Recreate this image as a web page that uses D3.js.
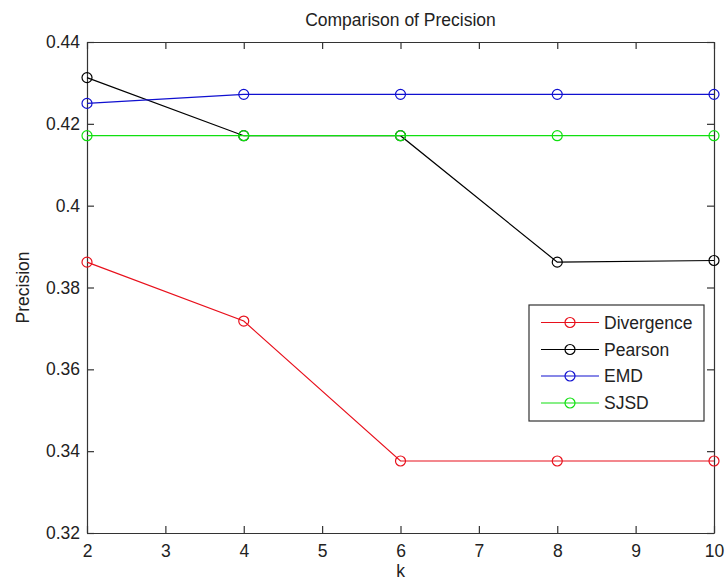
<!DOCTYPE html>
<html>
<head>
<meta charset="utf-8">
<script src="https://cdn.jsdelivr.net/npm/d3@7"></script>
<style>
  html, body { margin: 0; padding: 0; background: #fff; }
  svg { display: block; }
  text { font-family: "Liberation Sans", Arial, sans-serif; fill: #222; }
</style>
</head>
<body>
<svg id="chart" width="726" height="583"></svg>
<script>
const kValues = [2, 4, 6, 8, 10];
const divergence = [0.3862, 0.3718, 0.3376, 0.3376, 0.3376];
const pearson    = [0.4313, 0.4171, 0.4171, 0.3862, 0.3866];
const emd        = [0.4250, 0.4272, 0.4272, 0.4272, 0.4272];
const sjsd       = [0.4171, 0.4171, 0.4171, 0.4171, 0.4171];
const seriesNames = ["Divergence", "Pearson", "EMD", "SJSD"];
const seriesColors = ["#e8101c", "#000000", "#1010d0", "#10e010"];
const xTicks = [2, 3, 4, 5, 6, 7, 8, 9, 10];
const yTicks = [0.32, 0.34, 0.36, 0.38, 0.40, 0.42, 0.44];
const yTickLabels = ["0.32", "0.34", "0.36", "0.38", "0.4", "0.42", "0.44"];

const allSeries = [divergence, pearson, emd, sjsd];

(function () {
const svg = d3.select("#chart");
const L = 87, R = 714, T = 42, B = 533;

const x = d3.scaleLinear().domain([2, 10]).range([L, R]);
const y = d3.scaleLinear().domain([0.32, 0.44]).range([B, T]);

const fs = 17.5;
const tickLen = 7;
const axisColor = "#333";
const gAxes = svg.append("g");

const axBottom = d3.axisBottom(x).tickValues(xTicks).tickSize(-tickLen).tickSizeOuter(0).tickPadding(12).tickFormat(d3.format("d"));
const gB = gAxes.append("g").attr("transform", `translate(0,${B})`).call(axBottom);
const axTop = d3.axisTop(x).tickValues(xTicks).tickSize(-tickLen).tickSizeOuter(0).tickFormat("");
const gT = gAxes.append("g").attr("transform", `translate(0,${T})`).call(axTop);
const axLeft = d3.axisLeft(y).tickValues(yTicks).tickSize(-tickLen).tickSizeOuter(0).tickPadding(7)
  .tickFormat((d, i) => yTickLabels[i]);
const gL = gAxes.append("g").attr("transform", `translate(${L},0)`).call(axLeft);
const axRight = d3.axisRight(y).tickValues(yTicks).tickSize(-tickLen).tickSizeOuter(0).tickFormat("");
const gR = gAxes.append("g").attr("transform", `translate(${R},0)`).call(axRight);

[gB, gT, gL, gR].forEach(g => {
  g.select(".domain").attr("stroke", axisColor).attr("stroke-width", 1.2);
  g.selectAll(".tick line").attr("stroke", axisColor).attr("stroke-width", 1.2);
  g.selectAll(".tick text").attr("font-size", fs + "px")
    .attr("font-family", "'Liberation Sans', Arial, sans-serif").attr("fill", "#222");
});

const line = d3.line().x((d, i) => x(kValues[i])).y(d => y(d));
const gS = svg.append("g");
allSeries.forEach((vals, si) => {
  gS.append("path").datum(vals).attr("d", line)
    .attr("fill", "none").attr("stroke", seriesColors[si]).attr("stroke-width", 1.2);
  gS.selectAll(null).data(vals).enter().append("circle")
    .attr("cx", (d, i) => x(kValues[i])).attr("cy", d => y(d)).attr("r", 5)
    .attr("fill", "none").attr("stroke", seriesColors[si]).attr("stroke-width", 1.2);
});

svg.append("text").attr("x", (L + R) / 2).attr("y", 26).attr("text-anchor", "middle")
  .attr("font-size", fs + "px").text("Comparison of Precision");
svg.append("text").attr("x", (L + R) / 2).attr("y", 577).attr("text-anchor", "middle")
  .attr("font-size", fs + "px").text("k");
svg.append("text").attr("transform", `translate(29,${(T + B) / 2}) rotate(-90)`)
  .attr("text-anchor", "middle").attr("font-size", fs + "px").text("Precision");

const lgX = 529, lgY = 305, lgW = 175, lgH = 116;
const gLg = svg.append("g");
gLg.append("rect").attr("x", lgX).attr("y", lgY).attr("width", lgW).attr("height", lgH)
  .attr("fill", "#fff").attr("stroke", axisColor).attr("stroke-width", 1.2);
const rowY = [322.5, 349.5, 376, 403];
seriesNames.forEach((name, i) => {
  const yy = rowY[i];
  gLg.append("line").attr("x1", 541).attr("x2", 599).attr("y1", yy).attr("y2", yy)
    .attr("stroke", seriesColors[i]).attr("stroke-width", 1.2);
  gLg.append("circle").attr("cx", 570).attr("cy", yy).attr("r", 5)
    .attr("fill", "none").attr("stroke", seriesColors[i]).attr("stroke-width", 1.2);
  gLg.append("text").attr("x", 604).attr("y", yy).attr("dy", "0.36em")
    .attr("font-size", fs + "px").text(name);
});
})();
</script>
</body>
</html>
